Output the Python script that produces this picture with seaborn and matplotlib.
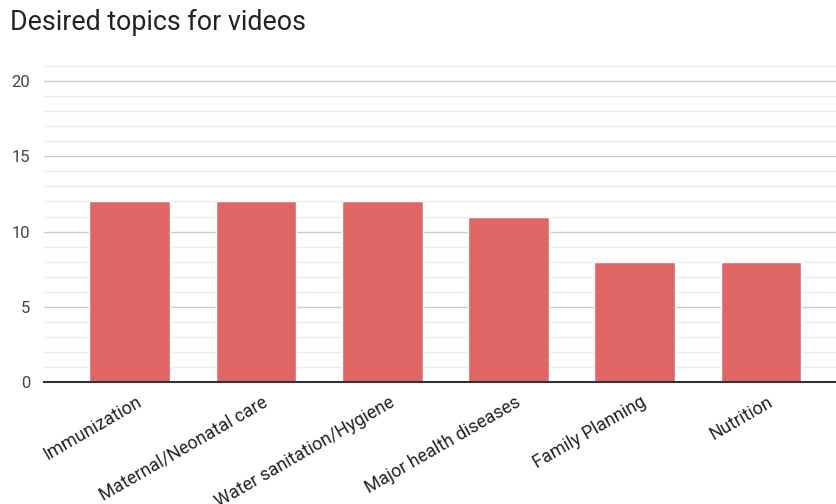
import matplotlib
matplotlib.use('Agg')
import matplotlib.pyplot as plt
import matplotlib.transforms as mtransforms
import seaborn as sns
import pandas as pd
from matplotlib.ticker import MultipleLocator

# Data
topics = ['Immunization', 'Maternal/Neonatal care', 'Water sanitation/Hygiene',
          'Major health diseases', 'Family Planning', 'Nutrition']
counts = [12, 12, 12, 11, 8, 8]

df = pd.DataFrame({'topic': topics, 'count': counts})

sns.set_style('white')
plt.rcParams['font.family'] = ['Roboto', 'DejaVu Sans']

fig = plt.figure(figsize=(8.37, 5.04), dpi=100)
ax = fig.add_axes([0.0526, 0.242, 0.947, 0.627])

sns.barplot(data=df, x='topic', y='count', color='#e06666', saturation=1,
            width=0.64, ax=ax, zorder=3)

ax.set_ylim(0, 21)
ax.set_xlim(-0.68, 5.6)
ax.yaxis.set_major_locator(MultipleLocator(5))
ax.yaxis.set_minor_locator(MultipleLocator(1))
ax.grid(which='major', axis='y', color='#cccccc', linewidth=1, zorder=0)
ax.grid(which='minor', axis='y', color='#ebebeb', linewidth=1, zorder=0)
ax.set_axisbelow(True)

for s in ['top', 'right', 'left']:
    ax.spines[s].set_visible(False)
ax.spines['bottom'].set_color('#333333')
ax.spines['bottom'].set_linewidth(1.5)
ax.spines['bottom'].set_zorder(4)

ax.tick_params(axis='y', which='both', length=0, labelsize=12, labelcolor='#444444', pad=10)
ax.tick_params(axis='x', length=0, labelsize=13, labelcolor='#222222', pad=8)

# nudge the rotated labels a little to the right
offset = mtransforms.ScaledTranslation(6 / 100, 0, fig.dpi_scale_trans)
for lbl in ax.get_xticklabels():
    lbl.set_rotation(30)
    lbl.set_ha('right')
    lbl.set_rotation_mode('anchor')
    lbl.set_transform(lbl.get_transform() + offset)

ax.set_xlabel('')
ax.set_ylabel('')

fig.text(0.012, 0.955, 'Desired topics for videos', fontsize=19.3, color='#222222',
         ha='left', va='center')

fig.savefig('out.png', dpi=100)
